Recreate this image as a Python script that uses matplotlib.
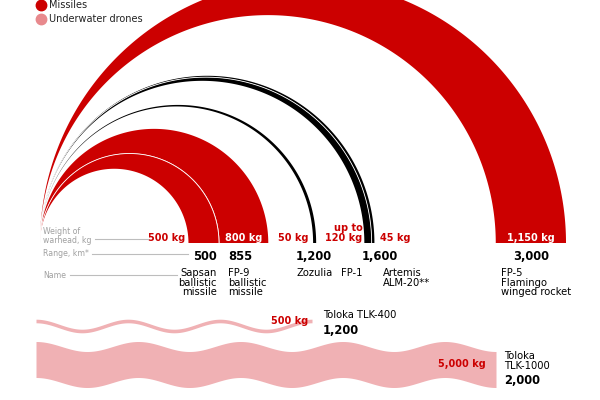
import numpy as np
import matplotlib
matplotlib.use("Agg")
from matplotlib import pyplot as plt
from matplotlib.lines import Line2D

plt.rcParams['font.family'] = ['DejaVu Sans']

RED = "#CC0000"
PINK = "#F0B1B4"
PINK_DOT = "#E8898D"
GREY = "#A0A0A0"
LINE_GREY = "#BDBDBD"

# missiles
names = ["Sapsan\nballistic\nmissile", "FP-9\nballistic\nmissile", "Zozulia",
         "FP-1", "Artemis\nALM-20**", "FP-5\nFlamingo\nwinged rocket"]
ranges = [500, 855, 1200, 1600, 1600, 3000]          # km
warheads = [500, 800, 50, 120, 45, 1150]              # kg
weight_labels = ["500 kg", "800 kg", "50 kg", "up to\n120 kg", "45 kg", "1,150 kg"]
range_labels = ["500", "855", "1,200", "1,600", "1,600", "3,000"]
arc_colors = [RED, RED, "black", "black", "black", RED]

# underwater drones
drone_names = ["Toloka TLK-400", "Toloka\nTLK-1000"]
drone_ranges = [1200, 2000]
drone_warheads = [500, 5000]
drone_weight_labels = ["500 kg", "5,000 kg"]
drone_range_labels = ["1,200", "2,000"]

#################################################
W, H = 600, 400
fig = plt.figure(figsize=(6, 4), dpi=100)

# missile axes: x in km, same scale on y so arcs are round
K = 0.1388      # px per km
X0 = 149.6      # px of 0 km
BASE = 243      # px of the baseline
ax = fig.add_axes([0, 0, 1, 1])
ax.set_xlim(-X0 / K, (W - X0) / K)
ax.set_ylim((BASE - H) / K, BASE / K)
ax.axis('off')
ARC_START = (40 - X0) / K
T = 0.44        # km of thickness per kg
px = 1 / K


def ry(py):
    return (BASE - py) / K


def crescent(r_out, t, color, edge=None):
    th = np.linspace(np.pi, 0, 400)
    ro = (r_out - ARC_START) / 2
    co = ARC_START + ro
    ri = (r_out - t - ARC_START) / 2
    ci = ARC_START + ri
    xs = np.concatenate([co + ro * np.cos(th), ci + ri * np.cos(th[::-1])])
    ys = np.concatenate([ro * np.sin(th), ri * np.sin(th[::-1])])
    ax.fill(xs, ys, color=color, lw=0)
    if edge:
        ax.plot(co + ro * np.cos(th), ro * np.sin(th), color=edge, lw=0.6)


# FP-1 and Artemis share a range: Artemis is stacked just outside FP-1
outer = list(ranges)
outer[4] = ranges[4] + T * warheads[4]
inner = [o - T * w for o, w in zip(outer, warheads)]
for i in [5, 4, 3, 2, 1, 0]:
    edge = 'white' if i in (0, 3) else None
    crescent(outer[i], T * warheads[i], arc_colors[i], edge)

wk = dict(fontsize=7, fontweight='bold', va='center')
num = dict(fontsize=8.3, fontweight='bold', va='center', color='black')
nm = dict(fontsize=7.2, va='top', linespacing=0.95, color='black')
y_w, y_r, y_n = ry(238), ry(256), ry(268)

# Sapsan
ax.text(inner[0] - 3 * px, y_w, weight_labels[0], color=RED, ha='right', **wk)
ax.text(outer[0] - 2 * px, y_r, range_labels[0], ha='right', **num)
ax.text(outer[0] - 2 * px, y_n, names[0], ha='right', **nm)
# FP-9
ax.text((inner[1] + outer[1]) / 2, y_w, weight_labels[1], color='white', ha='center', **wk)
ax.text(inner[1] + 9 * px, y_r, range_labels[1], ha='left', **num)
ax.text(inner[1] + 9 * px, y_n, names[1], ha='left', **nm)
# Zozulia
ax.text(inner[2] - 5 * px, y_w, weight_labels[2], color=RED, ha='right', **wk)
ax.text(outer[2] - 2 * px, y_r, range_labels[2], ha='center', **num)
ax.text(outer[2] - 2 * px, y_n, names[2], ha='center', **nm)
# FP-1
ax.text(inner[3] - 2 * px, ry(233), weight_labels[3], color=RED, ha='right',
        linespacing=0.9, **wk)
ax.text(outer[3] + 8 * px, y_r, range_labels[3], ha='center', **num)
ax.text(inner[3] - 2 * px, y_n, names[3], ha='right', **nm)
# Artemis
ax.text(outer[4] + 6 * px, y_w, weight_labels[4], color=RED, ha='left', **wk)
ax.text(outer[4] + 8 * px, y_n, names[4], ha='left', **nm)
# FP-5
ax.text((inner[5] + outer[5]) / 2, y_w, weight_labels[5], color='white', ha='center', **wk)
ax.text((inner[5] + outer[5]) / 2, y_r, range_labels[5], ha='center', **num)
ax.text(inner[5] + 5 * px, y_n, names[5], ha='left', **nm)

# drones axes: own km scale, y in px
DK = 0.23       # px per km
DX0 = 36
ax2 = fig.add_axes([0, 0, 1, 1])
ax2.set_xlim(-DX0 / DK, (W - DX0) / DK)
ax2.set_ylim(H, 0)
ax2.axis('off')
ax2.patch.set_alpha(0)
DT = 0.0072     # px of thickness per kg
dpx = 1 / DK

wave_count = [3, 4.5]
wave_mid = [326, 364.5]
wave_amp = [5, 5]
for i in range(2):
    x = np.linspace(0, drone_ranges[i], 600)
    yc = wave_mid[i] - wave_amp[i] * np.cos(2 * np.pi * wave_count[i] * x / drone_ranges[i])
    t = DT * drone_warheads[i]
    ax2.fill_between(x, yc - t / 2, yc + t / 2, color=PINK, lw=0)

ax2.text(drone_ranges[0] - 4 * dpx, 321, drone_weight_labels[0], color=RED, ha='right', **wk)
ax2.text(drone_ranges[0] + 11 * dpx, 315, drone_names[0], ha='left', va='center',
         fontsize=7.2)
ax2.text(drone_ranges[0] + 11 * dpx, 330, drone_range_labels[0], ha='left', **num)
ax2.text(drone_ranges[1] - 10 * dpx, 364, drone_weight_labels[1], color=RED, ha='right', **wk)
ax2.text(drone_ranges[1] + 8 * dpx, 361, drone_names[1], ha='left', va='center',
         fontsize=7.2, linespacing=0.95)
ax2.text(drone_ranges[1] + 8 * dpx, 381, drone_range_labels[1], ha='left', **num)


# left captions and legend, in figure pixels
def ftext(x, y, s, **kw):
    fig.text(x / W, 1 - y / H, s, **kw)


def fline(x1, x2, y):
    fig.add_artist(Line2D([x1 / W, x2 / W], [1 - y / H, 1 - y / H],
                          transform=fig.transFigure, color=LINE_GREY, lw=0.8))


ftext(43, 236, "Weight of\nwarhead, kg", fontsize=5.6, color=GREY, va='center', linespacing=0.9)
fline(95, 148, 239)
ftext(43, 254, "Range, km*", fontsize=5.6, color=GREY, va='center')
fline(92, 188, 254)
ftext(43, 275, "Name", fontsize=5.6, color=GREY, va='center')
fline(70, 177, 275)

for yy, c, lab in [(5, RED, "Missiles"), (19, PINK_DOT, "Underwater drones")]:
    fig.add_artist(Line2D([41 / W], [1 - yy / H], transform=fig.transFigure,
                          marker='o', ms=7.5, color=c, ls=''))
    ftext(49, yy, lab, fontsize=7, va='center', color='#222222')

fig.savefig("out.png", dpi=100)
